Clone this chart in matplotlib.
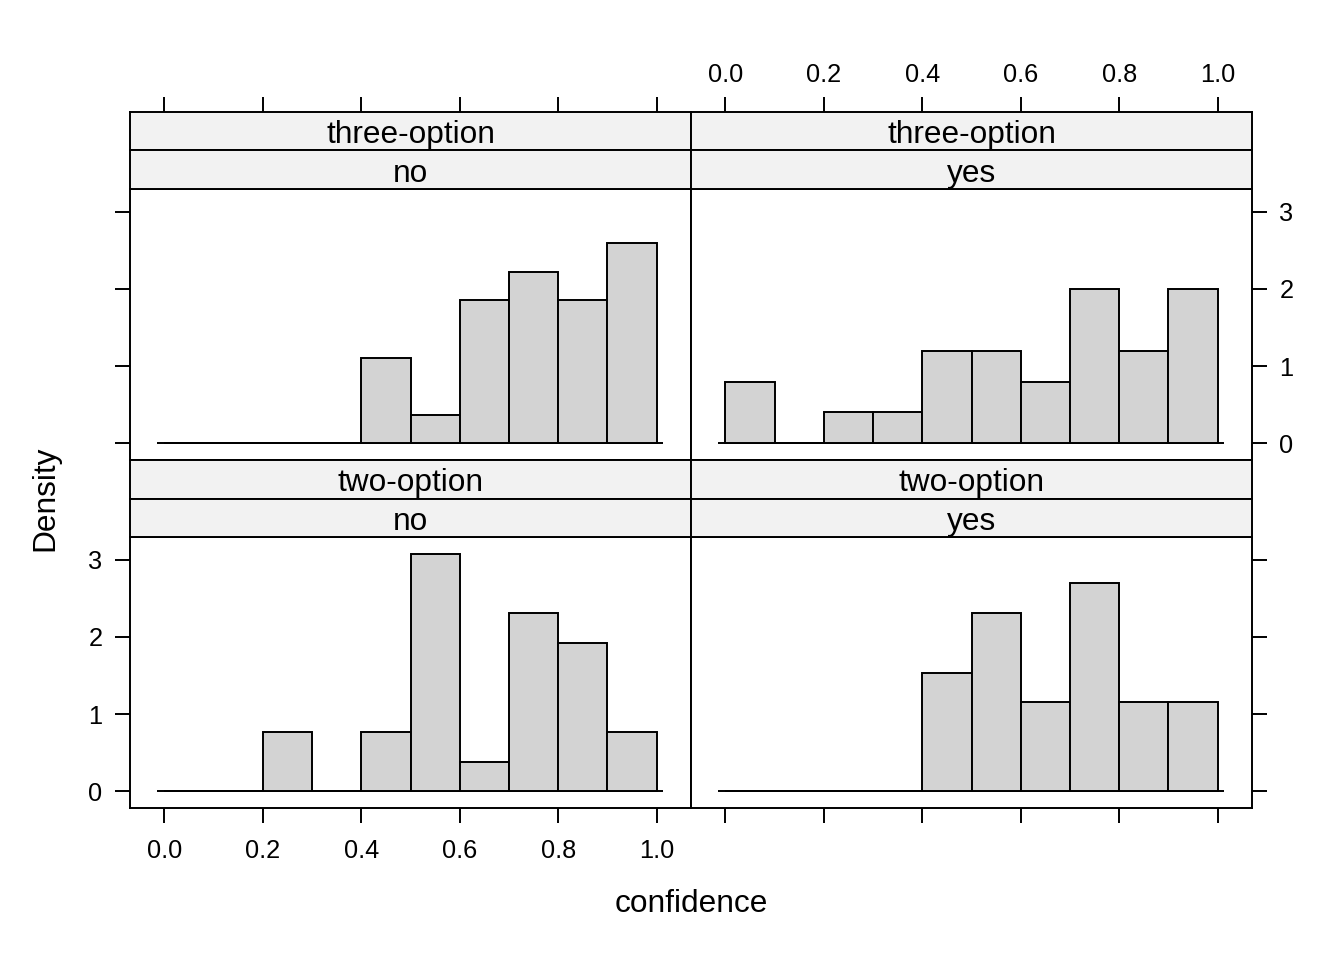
import numpy as np
import matplotlib
matplotlib.use("Agg")
import matplotlib.pyplot as plt

plt.rcParams['font.family'] = ['Liberation Sans', 'DejaVu Sans']

# histogram bins and counts (density = count / (n * width))
breaks = np.round(np.arange(0, 1.01, 0.1), 1)
counts_three_no = [0, 0, 0, 0, 3, 1, 5, 6, 5, 7]
counts_three_yes = [2, 0, 1, 1, 3, 3, 2, 5, 3, 5]
counts_two_no = [0, 0, 2, 0, 2, 8, 1, 6, 5, 2]
counts_two_yes = [0, 0, 0, 0, 4, 6, 3, 7, 3, 3]

x_ticks = [0.0, 0.2, 0.4, 0.6, 0.8, 1.0]
x_ticklabels = ['0.0', '0.2', '0.4', '0.6', '0.8', '1.0']
y_ticks = [0, 1, 2, 3]

W, H = 1344, 960
LW = 1.4
FS = 22.8
TFS = 18.3
STRIP_BG = '#F2F2F2'
BAR_FILL = '#D3D3D3'


def frect(x0, y0, x1, y1):
    return [x0 / W, 1 - y1 / H, (x1 - x0) / W, (y1 - y0) / H]


def density(counts):
    c = np.array(counts, dtype=float)
    return c / (c.sum() * np.diff(breaks))


fig = plt.figure(figsize=(W / 100, H / 100), dpi=100)

cols = [(130, 691), (691, 1252)]
rows = [
    ((111.7, 150.4), (150.4, 189), (189, 460)),
    ((460, 498.5), (498.5, 537), (537, 808)),
]
panels = [
    (0, 0, counts_three_no, 'three-option', 'no'),
    (0, 1, counts_three_yes, 'three-option', 'yes'),
    (1, 0, counts_two_no, 'two-option', 'no'),
    (1, 1, counts_two_yes, 'two-option', 'yes'),
]

xlim = (-0.07, 1.07)
ylim = (-0.215, 3.292)

for r, c, counts, s1, s2 in panels:
    x0, x1 = cols[c]
    (sa0, sa1), (sb0, sb1), (p0, p1) = rows[r]

    ax = fig.add_axes(frect(x0, p0, x1, p1))
    dens = density(counts)
    ax.hlines(0, -0.015, 1.013, color='black', lw=LW, zorder=1)
    ax.bar(breaks[:-1], dens, width=np.diff(breaks), align='edge',
           color=BAR_FILL, edgecolor='black', linewidth=LW, zorder=2)
    ax.set_xlim(*xlim)
    ax.set_ylim(*ylim)
    for sp in ax.spines.values():
        sp.set_linewidth(LW)
    ax.tick_params(direction='out', length=10.8, width=LW, labelsize=TFS, pad=9)

    # x ticks only along the bottom row
    if r == 1:
        ax.set_xticks(x_ticks)
        ax.set_xticklabels(x_ticklabels)
        ax.tick_params(axis='x', pad=11.5)
        if c == 1:
            ax.tick_params(axis='x', labelbottom=False)
    else:
        ax.set_xticks([])

    ax.set_yticks(y_ticks)
    if c == 0:
        ax.yaxis.tick_left()
        if r == 0:
            ax.tick_params(axis='y', labelleft=False)
    else:
        ax.yaxis.tick_right()
        if r == 1:
            ax.tick_params(axis='y', labelright=False)

    # strips
    for (t0, t1), label, outer in [((sa0, sa1), s1, True), ((sb0, sb1), s2, False)]:
        sax = fig.add_axes(frect(x0, t0, x1, t1))
        sax.set_facecolor(STRIP_BG)
        sax.set_xlim(*xlim)
        sax.set_yticks([])
        for sp in sax.spines.values():
            sp.set_linewidth(LW)
        sax.text(0.5, 0.39, label, transform=sax.transAxes, ha='center',
                 va='center', fontsize=FS)
        if outer and r == 0:
            sax.xaxis.tick_top()
            sax.set_xticks(x_ticks)
            sax.set_xticklabels(x_ticklabels)
            sax.tick_params(axis='x', direction='out', length=10.8, width=LW,
                            labelsize=TFS, pad=7, labeltop=(c == 1))
        else:
            sax.set_xticks([])

fig.text(45 / W, 1 - 498 / H, 'Density', rotation=90, ha='center',
         va='center', fontsize=FS)
fig.text(691 / W, 1 - 904 / H, 'confidence', ha='center', va='center',
         fontsize=FS)

fig.savefig('out.png', dpi=100)
